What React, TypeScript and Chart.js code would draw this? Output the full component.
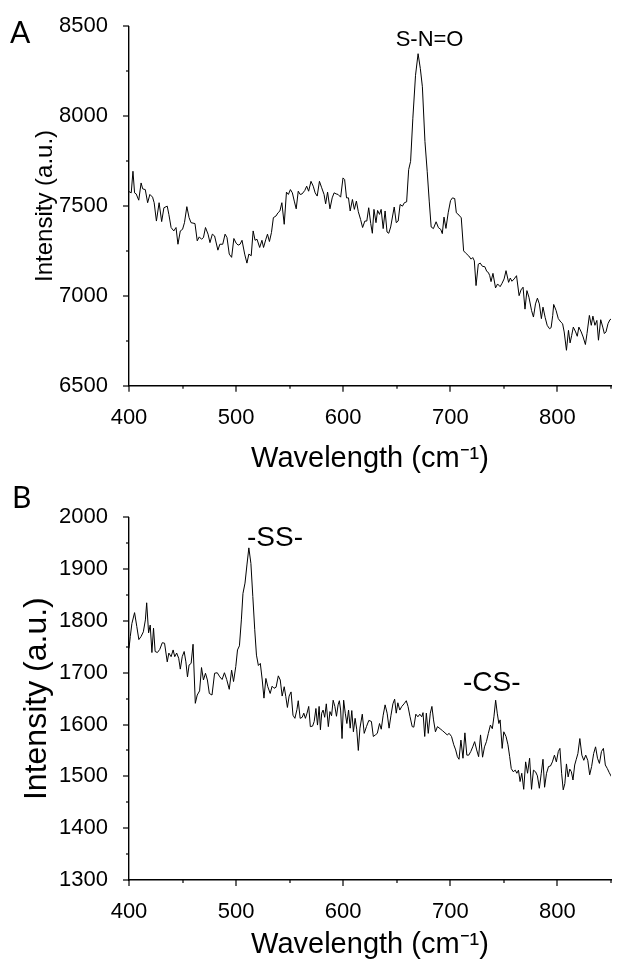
import React, { useEffect, useRef } from 'react';
import { Chart, registerables } from 'chart.js';

Chart.register(...registerables);

// ---------- Panel A data (Raman spectrum, S-N=O) ----------
const wavenumberA = [
  400.0, 402.1, 403.7, 405.2, 406.7, 409.1, 411.3, 412.8, 415.2, 417.4, 419.5, 422.0, 423.5, 425.6, 428.1, 430.5,
  432.6, 435.7, 437.2, 439.3, 441.8, 443.9, 445.7, 447.9, 450.0, 451.8, 454.0, 456.1, 457.9, 461.6, 463.7, 465.6,
  467.7, 469.5, 471.4, 473.8, 475.6, 477.8, 479.9, 483.0, 484.8, 487.5, 489.7, 491.5, 493.6, 495.8, 497.9, 500.0,
  501.9, 503.7, 505.5, 508.0, 510.1, 511.9, 514.1, 515.9, 517.7, 519.5, 522.0, 524.1, 525.6, 527.8, 529.3, 531.1,
  533.0, 534.8, 537.2, 539.1, 540.9, 542.7, 544.9, 547.0, 548.8, 550.7, 552.5, 554.3, 556.1, 558.0, 559.8, 561.6,
  564.1, 565.9, 567.7, 569.9, 572.0, 573.8, 575.7, 577.8, 579.9, 582.1, 583.6, 585.4, 587.6, 589.7, 591.5, 593.4,
  595.2, 597.6, 599.8, 601.3, 603.1, 604.9, 606.5, 608.6, 610.4, 612.3, 614.1, 616.2, 618.1, 620.2, 622.0, 623.8,
  625.7, 627.2, 628.7, 630.6, 632.1, 633.9, 635.4, 637.3, 639.1, 640.9, 642.5, 644.3, 646.1, 647.6, 649.5, 651.3,
  653.1, 655.3, 657.1, 659.2, 661.1, 662.9, 665.0, 667.5, 669.9, 672.0, 673.9, 676.3, 678.4, 680.3, 682.1, 684.2,
  686.7, 688.9, 691.0, 692.5, 694.1, 695.9, 698.0, 700.2, 702.0, 704.1, 705.6, 708.1, 710.2, 712.4, 714.8, 717.2,
  719.4, 720.9, 722.4, 724.0, 726.1, 727.9, 730.0, 732.2, 734.0, 735.5, 736.8, 738.0, 739.8, 742.2, 744.1, 746.5,
  748.3, 750.2, 752.0, 754.4, 756.0, 757.5, 759.6, 761.8, 764.2, 766.0, 767.9, 769.7, 771.5, 773.4, 775.8, 777.6,
  779.5, 781.3, 783.1, 785.0, 786.5, 788.6, 790.4, 792.6, 794.1, 795.6, 796.5, 798.7, 800.8, 803.2, 804.8, 806.3,
  808.4, 810.3, 811.8, 813.3, 814.8, 817.0, 818.5, 820.0, 822.2, 824.0, 826.1, 827.6, 829.8, 831.6, 833.1, 835.0,
  836.8, 838.3, 840.4, 842.3, 843.8, 845.3, 847.2, 849.0, 850.8,
];
const intensityA = [
  7580, 7573, 7693, 7573, 7567, 7532, 7628, 7595, 7591, 7518, 7564, 7549, 7518, 7416, 7518, 7413,
  7490, 7499, 7453, 7380, 7361, 7380, 7287, 7361, 7370, 7407, 7496, 7435, 7407, 7402, 7306, 7328,
  7315, 7324, 7380, 7343, 7296, 7343, 7333, 7254, 7287, 7287, 7343, 7324, 7232, 7214, 7319, 7293,
  7282, 7287, 7309, 7232, 7182, 7232, 7223, 7361, 7309, 7315, 7269, 7309, 7269, 7315, 7343, 7302,
  7352, 7435, 7444, 7462, 7472, 7518, 7398, 7577, 7564, 7591, 7573, 7527, 7484, 7582, 7564, 7567,
  7586, 7610, 7582, 7637, 7610, 7573, 7555, 7637, 7601, 7564, 7512, 7577, 7484, 7545, 7573, 7567,
  7564, 7549, 7656, 7647, 7545, 7545, 7472, 7536, 7481, 7527, 7468, 7425, 7380, 7416, 7416, 7490,
  7402, 7348, 7481, 7407, 7475, 7453, 7481, 7374, 7472, 7355, 7348, 7383, 7444, 7494, 7407, 7416,
  7508, 7499, 7518, 7523, 7702, 7748, 7988, 8227, 8347, 8264, 8163, 7859, 7693, 7527, 7383, 7374,
  7412, 7379, 7370, 7346, 7438, 7375, 7462, 7530, 7545, 7541, 7462, 7449, 7434, 7250, 7235, 7222,
  7204, 7213, 7195, 7057, 7176, 7182, 7164, 7162, 7136, 7130, 7112, 7079, 7125, 7044, 7066, 7051,
  7070, 7094, 7140, 7075, 7099, 7081, 7094, 7112, 7001, 7033, 7048, 6926, 7029, 6992, 6919, 6882,
  6955, 6987, 6955, 6873, 6937, 6878, 6836, 6817, 6823, 6891, 6952, 6919, 6873, 6854, 6845, 6799,
  6697, 6808, 6738, 6780, 6826, 6799, 6775, 6826, 6799, 6771, 6729, 6790, 6891, 6836, 6887, 6836,
  6863, 6753, 6867, 6826, 6790, 6799, 6845, 6867, 6873,
];

// ---------- Panel B data (Raman spectrum, -SS- / -CS-) ----------
const wavenumberB = [
  400.0, 401.2, 402.7, 405.2, 407.3, 409.2, 411.3, 413.4, 415.3, 416.5, 418.3, 419.8, 421.4, 422.9, 424.4, 426.5,
  428.7, 431.1, 433.2, 435.7, 437.2, 439.3, 441.2, 442.7, 444.5, 446.4, 447.9, 449.7, 451.5, 453.1, 454.6, 456.1,
  458.0, 459.8, 461.9, 463.7, 465.9, 467.7, 469.5, 471.4, 473.2, 475.0, 477.5, 479.9, 482.4, 484.8, 486.9, 489.1,
  491.2, 493.6, 495.8, 497.6, 499.7, 501.3, 503.1, 504.9, 506.4, 508.3, 510.1, 511.9, 513.8, 515.6, 517.4, 519.0,
  520.8, 522.6, 524.4, 526.0, 527.8, 529.6, 531.8, 533.6, 535.4, 537.3, 539.4, 541.2, 543.0, 544.9, 546.4, 547.9,
  549.5, 551.3, 553.1, 554.9, 556.8, 558.0, 559.8, 561.7, 563.2, 564.7, 566.2, 567.8, 569.3, 571.4, 572.9, 574.5,
  576.0, 577.5, 578.7, 579.9, 581.2, 582.7, 584.2, 586.1, 587.6, 589.1, 590.6, 592.2, 593.7, 595.2, 596.4, 597.6,
  598.9, 600.4, 601.9, 603.4, 605.0, 606.5, 608.0, 609.5, 611.1, 612.6, 614.1, 615.6, 617.8, 619.6, 621.7, 623.9,
  626.3, 628.1, 630.0, 631.8, 633.9, 635.5, 637.3, 639.1, 641.0, 642.8, 644.6, 646.4, 648.0, 649.5, 651.0, 652.8,
  654.7, 656.8, 658.9, 660.5, 662.3, 664.4, 665.9, 667.8, 669.7, 671.5, 673.3, 674.5, 676.1, 677.6, 679.4, 681.3,
  682.8, 684.3, 686.1, 688.0, 690.4, 692.8, 695.0, 697.1, 698.9, 701.1, 703.2, 705.0, 706.6, 708.1, 709.9, 711.8,
  713.6, 715.4, 717.2, 719.1, 720.9, 722.7, 724.6, 726.4, 728.2, 730.1, 731.9, 733.7, 735.5, 737.4, 739.2, 740.7,
  742.3, 743.8, 745.3, 746.5, 748.4, 749.9, 752.0, 753.8, 755.4, 756.9, 758.7, 760.6, 762.1, 763.6, 765.1, 766.7,
  768.5, 770.3, 772.1, 774.0, 775.8, 777.6, 779.5, 781.3, 783.1, 784.9, 786.5, 788.0, 789.8, 791.7, 793.5, 795.3,
  797.2, 799.0, 800.8, 802.3, 803.9, 805.4, 806.9, 808.4, 810.0, 811.5, 813.0, 814.5, 816.1, 817.6, 819.1, 820.9,
  822.8, 824.6, 826.4, 828.3, 830.1, 831.9, 833.8, 835.6, 837.4, 839.2, 841.1, 842.9, 844.7, 846.6, 848.4, 850.8,
];
const intensityB = [
  1747, 1770, 1795, 1816, 1789, 1764, 1770, 1779, 1802, 1835, 1777, 1792, 1739, 1786, 1741, 1739,
  1745, 1758, 1757, 1721, 1738, 1731, 1744, 1731, 1738, 1728, 1707, 1731, 1741, 1721, 1692, 1715,
  1718, 1755, 1641, 1657, 1665, 1710, 1686, 1699, 1686, 1660, 1657, 1699, 1700, 1692, 1687, 1700,
  1687, 1668, 1705, 1683, 1712, 1744, 1752, 1802, 1853, 1873, 1908, 1941, 1911, 1847, 1783, 1734,
  1714, 1718, 1686, 1651, 1689, 1673, 1660, 1674, 1670, 1672, 1694, 1686, 1655, 1673, 1654, 1633,
  1655, 1663, 1618, 1612, 1629, 1646, 1612, 1614, 1622, 1612, 1622, 1635, 1596, 1597, 1606, 1631,
  1599, 1635, 1590, 1622, 1628, 1614, 1640, 1596, 1625, 1617, 1647, 1635, 1616, 1638, 1646, 1628,
  1573, 1647, 1622, 1602, 1628, 1593, 1627, 1586, 1612, 1591, 1550, 1593, 1620, 1583, 1596, 1608,
  1606, 1577, 1580, 1583, 1602, 1591, 1618, 1638, 1622, 1593, 1618, 1640, 1649, 1622, 1642, 1628,
  1635, 1640, 1646, 1635, 1616, 1596, 1595, 1620, 1615, 1620, 1615, 1623, 1577, 1622, 1583, 1622,
  1635, 1609, 1586, 1596, 1592, 1588, 1584, 1580, 1583, 1577, 1561, 1551, 1538, 1533, 1570, 1535,
  1584, 1541, 1541, 1548, 1557, 1567, 1551, 1538, 1580, 1537, 1557, 1567, 1583, 1599, 1592, 1615,
  1647, 1622, 1602, 1609, 1554, 1586, 1577, 1561, 1538, 1515, 1509, 1512, 1506, 1512, 1490, 1506,
  1475, 1528, 1506, 1535, 1475, 1512, 1509, 1501, 1477, 1506, 1533, 1479, 1506, 1519, 1520, 1528,
  1541, 1528, 1548, 1554, 1506, 1474, 1486, 1524, 1499, 1514, 1509, 1493, 1522, 1533, 1544, 1573,
  1541, 1531, 1541, 1531, 1503, 1519, 1544, 1557, 1535, 1525, 1548, 1554, 1522, 1515, 1507, 1498,
];

// ---------- Axis definitions ----------
const xRange = [400, 850];
const xStep = 50;
const xLabelEvery = 100;
const yRangeA = [6500, 8500];
const yStepA = 250;
const yLabelEveryA = 500;
const yRangeB = [1300, 2000];
const yStepB = 50;
const yLabelEveryB = 100;

const xTitle = 'Wavelength (cm\u207B\u00B9)';
const yTitle = 'Intensity (a.u.)';

// peak annotations: [text, wavenumber, intensity]
const annotationsA: [string, number, number][] = [['S-N=O', 680.6, 8425]];
const annotationsB: [string, number, number][] = [
  ['-SS-', 536.3, 1960],
  ['-CS-', 738.7, 1680],
];

const FONT = "'Liberation Sans', Arial, Helvetica, sans-serif";

const decorPlugin = {
  id: 'decor',
  afterDraw(chart: any, _args: any, opts: any) {
    const ctx = chart.ctx;
    const xs = chart.scales.x;
    const ys = chart.scales.y;
    const area = chart.chartArea;
    ctx.save();
    ctx.strokeStyle = '#000';
    ctx.lineWidth = 1.2;
    xs.ticks.forEach((t: any) => {
      const px = Math.round(xs.getPixelForValue(t.value));
      const len = t.value % opts.xMajor === 0 ? 6 : 3;
      ctx.beginPath();
      ctx.moveTo(px, area.bottom);
      ctx.lineTo(px, area.bottom + len);
      ctx.stroke();
    });
    ys.ticks.forEach((t: any) => {
      const py = Math.round(ys.getPixelForValue(t.value));
      const len = t.value % opts.yMajor === 0 ? 6 : 3;
      ctx.beginPath();
      ctx.moveTo(area.left, py);
      ctx.lineTo(area.left - len, py);
      ctx.stroke();
    });
    // peak labels
    ctx.fillStyle = '#000';
    ctx.textAlign = 'center';
    ctx.textBaseline = 'middle';
    ctx.font = `${opts.annSize}px ${FONT}`;
    (opts.annotations || []).forEach((a: [string, number, number]) => {
      ctx.fillText(a[0], xs.getPixelForValue(a[1]), ys.getPixelForValue(a[2]));
    });
    // panel letter
    ctx.textAlign = 'left';
    ctx.textBaseline = 'alphabetic';
    ctx.font = `30px Lato, 'Open Sans', sans-serif`;
    ctx.fillText(opts.letter, opts.letterX, opts.letterY);
    ctx.restore();
  },
};

function makeConfig(p: any) {
  return {
    type: 'line',
    data: {
      datasets: [
        {
          data: p.xs.map((x: number, i: number) => ({ x, y: p.ys[i] })),
          borderColor: '#000',
          borderWidth: 1,
          pointRadius: 0,
          tension: 0,
          fill: false,
        },
      ],
    },
    options: {
      responsive: false,
      animation: false,
      devicePixelRatio: 1,
      layout: { padding: { top: p.padTop, left: 0, right: 0, bottom: 0 } },
      plugins: {
        legend: { display: false },
        tooltip: { enabled: false },
        decor: {
          xMajor: xLabelEvery,
          yMajor: p.yLabelEvery,
          annotations: p.annotations,
          annSize: p.annSize,
          letter: p.letter,
          letterX: p.letterX,
          letterY: p.letterY,
        },
      },
      scales: {
        x: {
          type: 'linear',
          min: xRange[0],
          max: xRange[1],
          afterFit: (s: any) => {
            s.height = p.xAxisHeight;
          },
          grid: { display: false },
          border: { display: true, color: '#000', width: 1.4 },
          ticks: {
            stepSize: xStep,
            autoSkip: false,
            maxRotation: 0,
            minRotation: 0,
            color: '#000',
            padding: 11,
            font: { family: FONT, size: 22 },
            callback: (v: number) => (v % xLabelEvery === 0 ? String(v) : ''),
          },
          title: {
            display: true,
            text: xTitle,
            color: '#000',
            font: { family: FONT, size: 29 },
            padding: { top: 0, bottom: p.xTitlePad },
          },
        },
        y: {
          type: 'linear',
          min: p.yRange[0],
          max: p.yRange[1],
          afterFit: (s: any) => {
            s.width = 129;
          },
          grid: { display: false },
          border: { display: true, color: '#000', width: 1.4 },
          ticks: {
            stepSize: p.yStep,
            autoSkip: false,
            color: '#000',
            padding: 13,
            font: { family: FONT, size: 22 },
            callback: (v: number) => (v % p.yLabelEvery === 0 ? String(v) : ''),
          },
          title: {
            display: true,
            text: yTitle,
            color: '#000',
            font: { family: FONT, size: p.yTitleSize },
            padding: { top: p.yTitlePad, bottom: 0 },
          },
        },
      },
    },
    plugins: [decorPlugin],
  };
}

function Panel(props: { cfg: any; top: number; height: number }) {
  const ref = useRef<HTMLCanvasElement | null>(null);
  useEffect(() => {
    if (!ref.current) return;
    const chart = new Chart(ref.current, props.cfg as any);
    return () => chart.destroy();
  }, []);
  return (
    <canvas
      ref={ref}
      width={622}
      height={props.height}
      style={{ position: 'absolute', left: 0, top: props.top, width: 622, height: props.height, display: 'block' }}
    />
  );
}

const cfgA = makeConfig({
  xs: wavenumberA,
  ys: intensityA,
  yRange: yRangeA,
  yStep: yStepA,
  yLabelEvery: yLabelEveryA,
  padTop: 24,
  xAxisHeight: 480 - 385.7,
  xTitlePad: 4,
  yTitleSize: 24,
  yTitlePad: 31,
  annotations: annotationsA,
  annSize: 22,
  letter: 'A',
  letterX: 10,
  letterY: 43,
});

const cfgB = makeConfig({
  xs: wavenumberB,
  ys: intensityB,
  yRange: yRangeB,
  yStep: yStepB,
  yLabelEvery: yLabelEveryB,
  padTop: 37.3,
  xAxisHeight: 485 - 400,
  xTitlePad: 3,
  yTitleSize: 32,
  yTitlePad: 18,
  annotations: annotationsB,
  annSize: 28,
  letter: 'B',
  letterX: 12,
  letterY: 28,
});

export default function App() {
  return (
    <div style={{ position: 'absolute', left: 0, top: 0, width: 622, height: 965, background: '#fff' }}>
      <Panel cfg={cfgA} top={0} height={480} />
      <Panel cfg={cfgB} top={480} height={485} />
    </div>
  );
}
